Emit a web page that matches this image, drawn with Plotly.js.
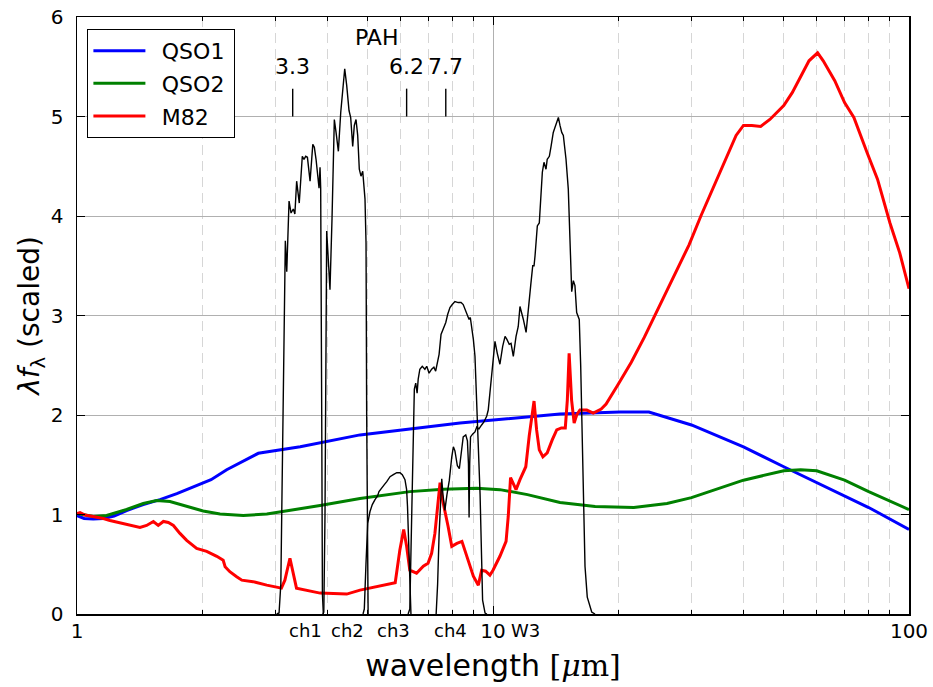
<!DOCTYPE html>
<html><head><meta charset="utf-8">
<script src="https://cdn.plot.ly/plotly-3.0.1.min.js"></script>
<style>html,body{margin:0;padding:0;background:#fff}#chart{width:933px;height:687px}</style>
</head><body><div id="chart"></div>
<script>
// ---------- data (wavelength in micron, scaled lambda*f_lambda) ----------
const qso1Wave = [1.0,1.04,1.094,1.157,1.228,1.316,1.443,1.583,1.738,1.91,2.10,2.29,2.50,2.728,3.44,4.79,8.33,14.49,20.2,23.7,30,40,50,60,70,80,100];
const qso1Flux = [0.99,0.96,0.955,0.96,0.985,1.04,1.10,1.15,1.21,1.28,1.35,1.45,1.53,1.615,1.68,1.80,1.92,2.01,2.03,2.03,1.90,1.68,1.48,1.32,1.19,1.07,0.85];

const qso2Wave = [1.0,1.094,1.178,1.316,1.443,1.554,1.673,1.835,2.01,2.207,2.51,2.86,3.31,3.84,4.79,6.31,7.58,9.14,10.39,12.1,14.49,17.6,21.8,26.2,30,40,50,54.9,60,70,80,100];
const qso2Flux = [1.01,0.98,0.99,1.05,1.11,1.14,1.13,1.085,1.035,1.005,0.99,1.005,1.045,1.09,1.16,1.23,1.255,1.265,1.25,1.20,1.12,1.08,1.07,1.11,1.17,1.345,1.44,1.45,1.44,1.345,1.23,1.05];

const m82Wave = [1.0,1.017,1.045,1.094,1.157,1.20,1.257,1.316,1.379,1.417,1.47,1.526,1.568,1.613,1.658,1.705,1.768,1.835,1.939,2.05,2.168,2.246,2.27,2.33,2.42,2.49,2.65,2.858,3.10,3.16,3.25,3.31,3.37,3.84,4.29,4.45,4.79,5.26,5.82,5.97,6.10,6.20,6.31,6.55,6.80,6.98,7.12,7.25,7.37,7.46,7.56,7.66,7.80,7.96,8.19,8.42,8.65,8.97,9.22,9.39,9.60,9.83,10.0,10.39,10.75,10.88,11.02,11.19,11.36,11.61,11.99,12.22,12.38,12.55,12.73,12.92,13.18,13.5,13.88,14.23,14.6,14.92,15.09,15.24,15.45,15.67,15.89,16.18,16.8,17.42,18.2,18.7,20.0,21.5,23.1,26.1,29.6,31.6,34.5,38.4,40.0,41.9,44.0,46.3,50.0,52.4,57.5,60.3,62.2,66.3,70,73.7,79.4,84.0,90,95,100];
const m82Flux = [1.01,1.02,0.995,0.98,0.96,0.94,0.92,0.90,0.88,0.87,0.89,0.93,0.89,0.93,0.92,0.89,0.81,0.74,0.66,0.63,0.58,0.54,0.475,0.425,0.375,0.34,0.325,0.29,0.26,0.34,0.56,0.41,0.26,0.21,0.20,0.20,0.24,0.275,0.315,0.64,0.85,0.68,0.44,0.41,0.48,0.51,0.61,0.81,1.11,1.32,1.15,1.05,0.88,0.68,0.71,0.73,0.58,0.38,0.29,0.44,0.43,0.39,0.44,0.58,0.73,0.98,1.37,1.30,1.25,1.35,1.48,1.79,1.99,2.14,1.85,1.65,1.58,1.62,1.75,1.85,1.87,1.87,2.15,2.62,2.15,1.92,2.00,2.05,2.05,2.02,2.06,2.11,2.31,2.53,2.78,3.24,3.71,4.0,4.37,4.81,4.91,4.91,4.90,4.97,5.11,5.24,5.56,5.64,5.56,5.36,5.14,4.99,4.63,4.37,3.93,3.63,3.27];

const ch1Wave = [3.02,3.06,3.09,3.12,3.151,3.168,3.193,3.234,3.27,3.311,3.34,3.373,3.422,3.48,3.513,3.546,3.58,3.633,3.688,3.72,3.755,3.79,3.818,3.839,3.853,3.875,3.89,3.91];
const ch1Resp = [0,0.01,0.3,1.5,2.8,3.75,3.44,4.15,4.03,4.07,4.02,4.35,4.13,4.60,4.57,4.60,4.59,4.35,4.72,4.69,4.57,4.37,4.28,4.49,4.28,2.0,0.2,0];

const ch2Wave = [3.90,3.92,3.946,3.968,3.983,4.019,4.056,4.102,4.155,4.195,4.249,4.305,4.353,4.401,4.45,4.507,4.549,4.60,4.641,4.685,4.729,4.771,4.816,4.862,4.924,4.952,4.97,4.985,5.01];
const ch2Resp = [0,0.02,1.0,3.0,3.85,3.56,3.26,3.97,4.97,4.84,4.65,5.04,5.28,5.48,5.31,5.06,4.99,4.70,4.91,4.97,4.81,4.47,4.40,4.45,4.17,3.73,2.0,0.5,0];

const ch3Wave = [4.87,4.905,4.95,4.998,5.062,5.127,5.204,5.282,5.32,5.40,5.48,5.554,5.656,5.76,5.87,5.977,6.053,6.143,6.20,6.23,6.28,6.32,6.35];
const ch3Resp = [0,0.05,0.5,0.91,1.03,1.10,1.15,1.19,1.23,1.27,1.30,1.33,1.38,1.40,1.42,1.42,1.40,1.35,1.25,1.08,0.58,0.05,0];

const ch4Wave = [6.25,6.31,6.37,6.42,6.47,6.52,6.57,6.61,6.67,6.76,6.86,6.93,7.02,7.12,7.21,7.28,7.36,7.42,7.50,7.60,7.70,7.78,7.88,7.98,8.10,8.25,8.38,8.48,8.56,8.69,8.76,8.82,8.89,8.97,9.05,9.14,9.22,9.31,9.39,9.44,9.57,9.67];
const ch4Resp = [0,0.05,0.9,1.8,2.26,2.32,2.22,2.36,2.46,2.49,2.46,2.49,2.42,2.46,2.48,2.44,2.54,2.61,2.81,2.88,2.93,3.01,3.08,3.11,3.14,3.13,3.13,3.11,3.06,2.99,2.96,2.98,2.89,2.76,2.59,2.1,1.7,1.2,0.55,0.14,0.01,0];

const w3Wave = [7.30,7.36,7.42,7.48,7.53,7.58,7.62,7.66,7.75,7.85,7.96,8.03,8.10,8.21,8.30,8.38,8.48,8.60,8.68,8.73,8.76,8.79,8.83,8.94,9.05,9.14,9.25,9.39,9.51,9.66,9.74,9.83,9.98,10.11,10.24,10.39,10.55,10.69,10.80,10.94,11.05,11.19,11.36,11.50,11.61,11.72,11.83,12.01,12.16,12.32,12.46,12.55,12.62,12.78,12.92,13.02,13.14,13.26,13.41,13.50,13.66,13.79,13.96,14.09,14.23,14.36,14.49,14.63,14.76,14.98,15.17,15.31,15.46,15.60,15.74,15.89,16.12,16.25,16.37,16.48,16.64,16.85,17.27,17.59];
const w3Resp = [0,0.3,0.8,1.2,1.36,1.20,1.07,1.04,1.20,1.34,1.58,1.68,1.64,1.49,1.46,1.61,1.78,1.80,1.74,1.51,0.97,1.51,1.78,1.81,1.83,1.88,1.86,1.90,1.93,1.99,2.05,2.22,2.49,2.74,2.62,2.51,2.69,2.79,2.76,2.71,2.72,2.59,2.79,2.89,3.09,3.03,2.96,2.83,3.03,3.30,3.50,3.50,3.60,3.90,3.93,4.17,4.44,4.54,4.47,4.57,4.60,4.70,4.84,4.89,4.94,4.99,4.91,4.84,4.81,4.57,4.27,3.83,3.24,3.35,3.30,3.03,2.96,2.49,1.82,1.15,0.48,0.17,0.02,0];

const pahWave = [3.3, 6.2, 7.7];
const pahLabels = ['3.3', '6.2', '7.7'];
const bandCenters = [3.55, 4.46, 5.75, 7.9, 11.95];
const bandLabels = ['ch1', 'ch2', 'ch3', 'ch4', 'W3'];
const xTickVals = [1, 10, 100];
const xTickText = ['1', '10', '100'];
const xMinorVals = [2,3,4,5,6,7,8,9,20,30,40,50,60,70,80,90];
const seriesNames = ['QSO1', 'QSO2', 'M82'];

// ---------- traces ----------
const FONT = 'DejaVu Sans, Verdana, sans-serif';
const PAD = '\u00a0\u2009';   // small gap between legend line and label
const TRAIL = '\u2009';
const traces = [];
traces.push({x: qso1Wave, y: qso1Flux, name: PAD + seriesNames[0] + TRAIL, mode: 'lines', line: {color: '#0000ff', width: 3}, legendgroup: 'a'});
traces.push({x: qso2Wave, y: qso2Flux, name: PAD + seriesNames[1] + TRAIL, mode: 'lines', line: {color: '#008000', width: 3}, legendgroup: 'b'});
traces.push({x: m82Wave, y: m82Flux, name: PAD + seriesNames[2] + TRAIL, mode: 'lines', line: {color: '#ff0000', width: 3}, legendgroup: 'c'});
[[ch1Wave, ch1Resp], [ch2Wave, ch2Resp], [ch3Wave, ch3Resp], [ch4Wave, ch4Resp], [w3Wave, w3Resp]].forEach(function (f) {
  traces.push({x: f[0], y: f[1], mode: 'lines', line: {color: '#000000', width: 1.4}, showlegend: false, hoverinfo: 'skip'});
});
// PAH feature markers
const pahX = [], pahY = [];
pahWave.forEach(function (w) { pahX.push(w, w, null); pahY.push(5.0, 5.28, null); });
traces.push({x: pahX, y: pahY, mode: 'lines', line: {color: '#000000', width: 1.4}, showlegend: false, hoverinfo: 'skip'});

// ---------- annotations ----------
const annotations = [];
pahWave.forEach(function (w, i) {
  annotations.push({x: Math.log10(w), y: 5.5, xref: 'x', yref: 'y', text: pahLabels[i], showarrow: false,
    font: {family: FONT, size: 22, color: '#000'}, xanchor: 'center', yanchor: 'middle'});
});
annotations.push({x: Math.log10(5.25), y: 5.79, xref: 'x', yref: 'y', text: 'PAH', showarrow: false,
  font: {family: FONT, size: 22, color: '#000'}, xanchor: 'center', yanchor: 'middle'});
bandCenters.forEach(function (w, i) {
  annotations.push({x: Math.log10(w), y: -0.027, xref: 'x', yref: 'paper', text: bandLabels[i], showarrow: false,
    font: {family: FONT, size: 18, color: '#000'}, xanchor: 'center', yanchor: 'middle'});
});

const layout = {
  width: 933, height: 687,
  margin: {l: 77, r: 24, t: 17, b: 73},
  paper_bgcolor: '#ffffff', plot_bgcolor: '#ffffff',
  font: {family: FONT, color: '#000'},
  showlegend: true,
  legend: {x: 0.0125, y: 0.98, xanchor: 'left', yanchor: 'top', bgcolor: '#ffffff', bordercolor: '#000000', borderwidth: 1,
    font: {family: FONT, size: 22, color: '#000'}, traceorder: 'grouped', tracegroupgap: 1, itemwidth: 52},
  xaxis: {
    type: 'log', range: [0, 2], tickmode: 'array', tickvals: xTickVals, ticktext: xTickText,
    ticks: 'inside', ticklen: 8, tickwidth: 1, tickcolor: '#000',
    showline: true, linecolor: '#000', linewidth: 1.5, mirror: 'allticks',
    showgrid: true, gridcolor: '#b0b0b0', gridwidth: 1, zeroline: false,
    tickfont: {family: FONT, size: 20, color: '#000'}, ticklabelstandoff: -2,
    minor: {tickvals: xMinorVals, showgrid: true, gridcolor: '#d6d6d6', griddash: '10px,6px', gridwidth: 1,
      ticks: 'inside', ticklen: 4, tickcolor: '#000', tickwidth: 1},
    title: {text: 'wavelength <span style="font-family:DejaVu Serif">[<i>μ</i>m]</span>', font: {family: FONT, size: 30, color: '#000'}, standoff: 13}
  },
  yaxis: {
    range: [0, 6], dtick: 1, tick0: 0,
    ticks: 'inside', ticklen: 8, tickwidth: 1, tickcolor: '#000',
    showline: true, linecolor: '#000', linewidth: 1.5, mirror: 'allticks',
    showgrid: true, gridcolor: '#b0b0b0', gridwidth: 1, zeroline: false,
    tickfont: {family: FONT, size: 20, color: '#000'}, ticklabelstandoff: 8,
    title: {text: '<i>λf</i><sub>λ</sub> (scaled)', font: {family: FONT, size: 28, color: '#000'}, standoff: 3}
  },
  annotations: annotations
};

Plotly.newPlot('chart', traces, layout, {displayModeBar: false, staticPlot: true});
</script>
</body></html>
